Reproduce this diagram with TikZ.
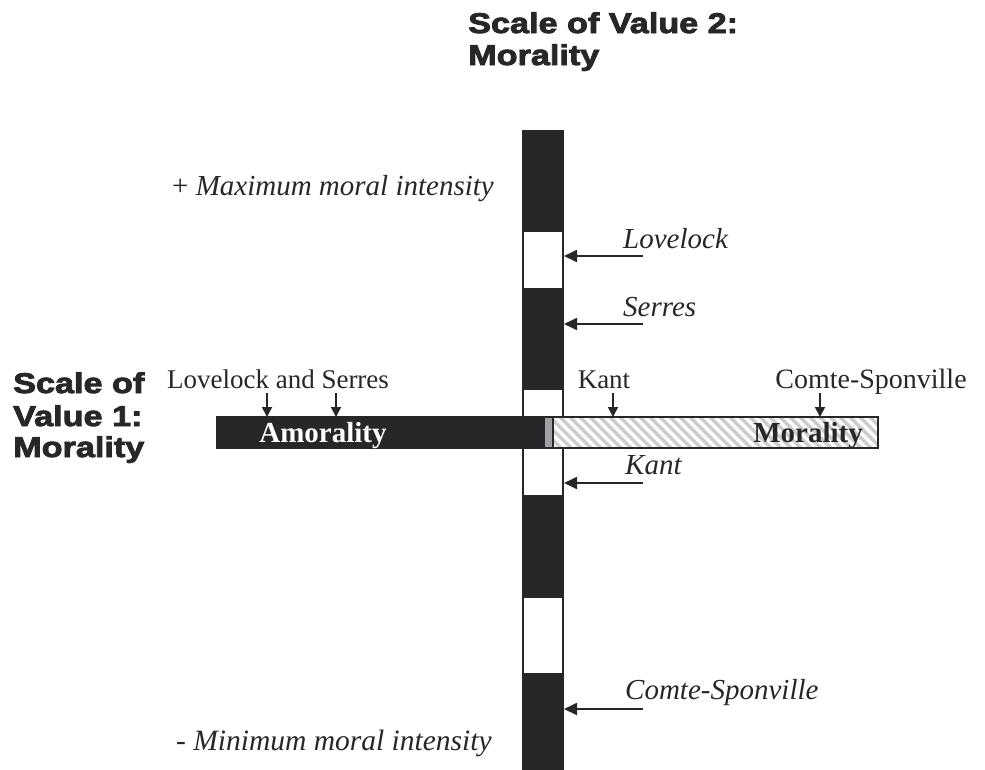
\documentclass[tikz,border=0pt]{standalone}
\usepackage{fontspec}
\setmainfont{Liberation Serif}
\newfontfamily\titlefont{Liberation Sans Bold}[FakeBold=3,FakeStretch=1.2]
\usetikzlibrary{arrows.meta}
\definecolor{ink}{RGB}{40,38,40}
\definecolor{midgray}{RGB}{160,160,164}
\definecolor{hatchgray}{RGB}{205,205,205}
\tikzset{
  outl/.style={draw=ink,line width=1.8pt},
  blk/.style={fill=ink,draw=ink,line width=1.8pt},
  arr/.style={draw=ink,line width=1.8pt,-{Triangle[length=13pt,width=12pt]}},
  darr/.style={draw=ink,line width=1.8pt,-{Triangle[length=10pt,width=10pt]}},
  ital/.style={font=\fontsize{29}{32}\selectfont\itshape,text=ink,inner sep=0pt,anchor=base west},
  upl/.style={font=\fontsize{27}{31}\selectfont,text=ink,inner sep=0pt,anchor=base},
  ttl/.style={font=\fontsize{28.5}{32}\selectfont\titlefont,text=ink,inner sep=0pt,anchor=base west},
}
\begin{document}
\begin{tikzpicture}[x=1pt,y=-1pt]
\useasboundingbox (0,0) rectangle (985,769);
% titles
\node[ttl] (t2a) at (468,33) {Scale of Value 2:};
\node[ttl] (t2b) at (468,65) {Morality};
\node[ttl] (t1a) at (13,393) {Scale of};
\node[ttl] (t1b) at (13,426) {Value 1:};
\node[ttl] (t1c) at (13,457) {Morality};
% vertical bar
\fill[white] (523,131) rectangle (563,769);
\draw[outl] (523,131) rectangle (563,769);
\filldraw[blk] (523,131) rectangle (563,231);
\filldraw[blk] (523,289) rectangle (563,389);
\filldraw[blk] (523,496) rectangle (563,597);
\filldraw[blk] (523,674) rectangle (563,769);
% horizontal bar
\filldraw[blk] (217,417) rectangle (544,448);
\filldraw[fill=midgray,draw=ink,line width=1.5pt] (544,417) rectangle (553,448);
\begin{scope}
\clip (553,417) rectangle (878,448);
\fill[white] (553,417) rectangle (878,448);
\foreach \i in {520,530,...,880} {
  \draw[hatchgray,line width=3.5pt] (\i,417) -- (\i+31,448);
}
\end{scope}
\draw[outl] (553,417) rectangle (878,448);
\draw[draw=ink,line width=1pt] (523,417) -- (523,448);
\node[font=\fontsize{29}{32}\selectfont\bfseries,text=white,inner sep=0pt,anchor=base] (amor) at (323,442) {Amorality};
\node[font=\fontsize{29}{32}\selectfont\bfseries,text=ink,inner sep=0pt,anchor=base] (mor) at (808,442) {Morality};
% pole labels
\node[font=\fontsize{29}{32}\selectfont,text=ink,inner sep=0pt,anchor=base west] (max) at (172,195) {+ \itshape Maximum moral intensity};
\node[font=\fontsize{29.5}{32}\selectfont,text=ink,inner sep=0pt,anchor=base west] (min) at (176,750) {- \itshape Minimum moral intensity};
% labels above horizontal bar
\node[upl] (ls) at (278,388) {Lovelock and Serres};
\node[upl] (kantu) at (604,388) {Kant};
\node[upl,font=\fontsize{28}{31}\selectfont] (csu) at (871,388) {Comte-Sponville};
\coordinate (d1s) at (267,393); \coordinate (d1e) at (267,417);
\coordinate (d2s) at (336,393); \coordinate (d2e) at (336,417);
\coordinate (d3s) at (613,393); \coordinate (d3e) at (613,417);
\coordinate (d4s) at (820,393); \coordinate (d4e) at (820,417);
\draw[darr] (d1s) -- (d1e);
\draw[darr] (d2s) -- (d2e);
\draw[darr] (d3s) -- (d3e);
\draw[darr] (d4s) -- (d4e);
% labels right of vertical bar
\node[ital] (lov) at (623,248) {Lovelock};
\node[ital] (ser) at (623,316) {Serres};
\node[ital] (kan) at (625,474) {Kant};
\node[ital] (com) at (625,699) {Comte-Sponville};
\coordinate (h1s) at (643,256); \coordinate (h1e) at (564,256);
\coordinate (h2s) at (643,324); \coordinate (h2e) at (564,324);
\coordinate (h3s) at (643,483); \coordinate (h3e) at (564,483);
\coordinate (h4s) at (643,709); \coordinate (h4e) at (564,709);
\draw[arr] (h1s) -- (h1e);
\draw[arr] (h2s) -- (h2e);
\draw[arr] (h3s) -- (h3e);
\draw[arr] (h4s) -- (h4e);
\end{tikzpicture}
\end{document}
